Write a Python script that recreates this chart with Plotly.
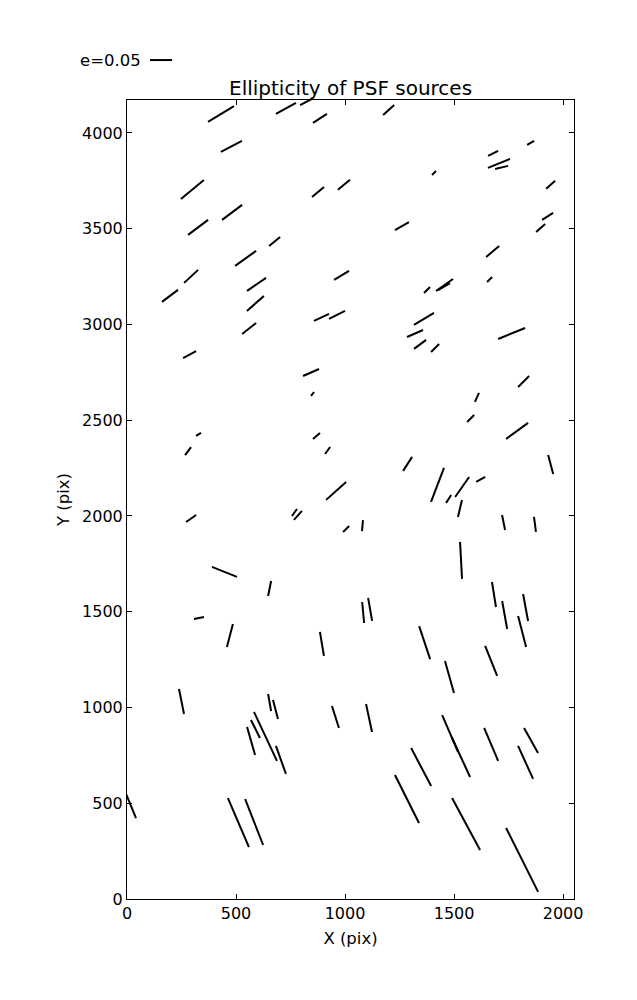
import plotly.graph_objects as go

# Star positions (pix) and ellipticity components (e*cos(theta), e*sin(theta))
x = [431, 729, 830, 885, 1200, 479, 1679, 1851, 1706, 1718, 1408, 300, 876, 995, 1943,
     326, 482, 677, 1261, 1929, 1897, 544, 1677, 294, 984, 594, 197, 1663, 1376, 1456,
     1454, 589, 892, 963, 1362, 560, 1321, 1764, 1344, 1413, 287, 844, 1819, 851, 1605,
     1576, 1789, 328, 869, 280, 920, 1287, 1943, 1424, 1475, 1537, 1622, 959, 1527, 294,
     768, 784, 1005, 1080, 1727, 1871, 1532, 447, 654, 330, 472, 894, 1083, 1115, 1683,
     1732, 1828, 1812, 1365, 1479, 1670, 250, 654, 681, 956, 1110, 1482, 1532, 1670, 1853,
     1828, 1349, 589, 569, 635, 706, 16, 511, 583, 1284, 1555, 1812]
y = [4099, 4128, 4167, 4076, 4120, 3930, 3893, 3948, 3841, 3820, 3791, 3705, 3692, 3729, 3729,
     3507, 3585, 3433, 3514, 3564, 3504, 3345, 3381, 3251, 3256, 3209, 3149, 3235, 3180, 3206,
     3198, 3110, 3037, 3050, 3029, 2979, 2953, 2953, 2896, 2877, 2843, 2749, 2702, 2637, 2619,
     2509, 2444, 2426, 2418, 2339, 2342, 2272, 2269, 2162, 2089, 2151, 2191, 2131, 2039, 1987,
     2018, 2003, 1932, 1950, 1966, 1956, 1768, 1708, 1621, 1467, 1376, 1332, 1496, 1512, 1590,
     1483, 1522, 1397, 1339, 1159, 1243, 1031, 1026, 990, 950, 945, 864, 739, 807, 828,
     713, 689, 888, 825, 849, 726, 493, 399, 402, 522, 392, 204]
ex = [.059, .0454, .036, .0318, .025, .0477, .0227, .0159, .05, .0295, .0091, .0522, .0273, .0273, .0204,
      .0454, .0454, .025, .0318, .025, .0204, .0477, .0295, .0318, .0341, .0431, .0363, .0114, .0136, .0386,
      .0273, .0386, .0341, .0363, .0454, .0318, .0363, .0613, .0273, .0182, .0295, .0363, .025, .0068, .0091,
      .0159, .05, .0114, .0159, .0136, .0114, .0204, .0114, .0295, .0114, .0318, .0204, .0454, .0091, .0227,
      .0114, .0182, .0136, .0023, .0068, .0045, .0045, .0568, .0068, .0227, .0136, .0091, .0045, .0091, .0091,
      .0114, .0114, .0182, .025, .0204, .0273, .0114, .0068, .0114, .0159, .0136, .0363, .0409, .0318, .0318,
      .0341, .0454, .0204, .0182, .0522, .0227, .025, .0477, .0409, .0545, .0636, .0727]
ey = [.041, .0284, .021, .0233, .0259, .0284, .0129, .0103, .0233, .0078, .0103, .0491, .0259, .0259, .0207,
      .0388, .0388, .0233, .0207, .0181, .0207, .0388, .0284, .0336, .0233, .0336, .031, .0129, .0155, .031,
      .0181, .0388, .0181, .0207, .031, .0284, .0181, .0284, .0233, .0207, .0181, .0181, .0284, .0103, .0233,
      .0181, .0414, .0078, .0155, .0207, .0181, .0362, -.0491, .0879, .0207, .0517, .0129, .0465, .0439, .0181,
      .0181, .0233, .0155, .0284, -.0388, -.0388, -.0956, -.0259, .0388, .0052, .0595, -.062, -.0543, -.0595, -.0646,
      -.0724, -.0698, -.0801, -.0853, -.0827, -.0776, -.0646, -.0439, -.0491, -.0569, -.0724, -.0956, -.1008, -.0853, -.0646,
      -.0853, -.0982, -.0465, -.0724, -.1267, -.0724, -.0698, -.1267, -.1189, -.1241, -.1344, -.1654]

SCALE = 2020.0      # data units per unit ellipticity
KEY_E = 0.05
X_RANGE = [0, 2050]
Y_RANGE = [0, 4172]

xs, ys = [], []
for xi, yi, a, b in zip(x, y, ex, ey):
    hx, hy = a * SCALE / 2, b * SCALE / 2
    xs += [xi - hx, xi + hx, None]
    ys += [yi - hy, yi + hy, None]

fig = go.Figure()
fig.add_trace(go.Scatter(x=xs, y=ys, mode="lines",
                         line=dict(color="black", width=2), hoverinfo="skip",
                         showlegend=False))

FONT = "DejaVu Sans"
axis_common = dict(showgrid=False, zeroline=False, showline=True, linecolor="black",
                   linewidth=1, mirror="ticks", ticks="inside", ticklen=5,
                   tickcolor="black", tickfont=dict(family=FONT, size=16, color="black"))

# page body has an 8px margin, so the figure is sized/offset to compensate
fig.update_layout(
    width=629, height=992,
    margin=dict(l=119, r=63, t=92, b=101),
    paper_bgcolor="white", plot_bgcolor="white",
    xaxis=dict(range=X_RANGE, tickvals=[0, 500, 1000, 1500, 2000], **axis_common,
               title=dict(text="X (pix)", font=dict(family=FONT, size=16.5, color="black"), standoff=10)),
    yaxis=dict(range=Y_RANGE, tickvals=[0, 500, 1000, 1500, 2000, 2500, 3000, 3500, 4000], **axis_common,
               title=dict(text="Y (pix)", font=dict(family=FONT, size=16.5, color="black"), standoff=8)),
)

fig.add_annotation(text="Ellipticity of PSF sources", xref="paper", yref="paper",
                   x=0.5, y=0.998, xanchor="center", yanchor="bottom", showarrow=False,
                   font=dict(family=FONT, size=20, color="black"))

# quiver key
key_x0 = 0.0515
key_len = KEY_E * SCALE / (X_RANGE[1] - X_RANGE[0])
key_y = 1.050
fig.add_shape(type="line", xref="paper", yref="paper", x0=key_x0, x1=key_x0 + key_len,
              y0=key_y, y1=key_y, line=dict(color="black", width=2))
fig.add_annotation(text="e=0.05", xref="paper", yref="paper", x=key_x0 - 0.016, y=key_y,
                   xanchor="right", yanchor="middle", showarrow=False,
                   font=dict(family=FONT, size=16.5, color="black"))

fig.write_html("out.html")
